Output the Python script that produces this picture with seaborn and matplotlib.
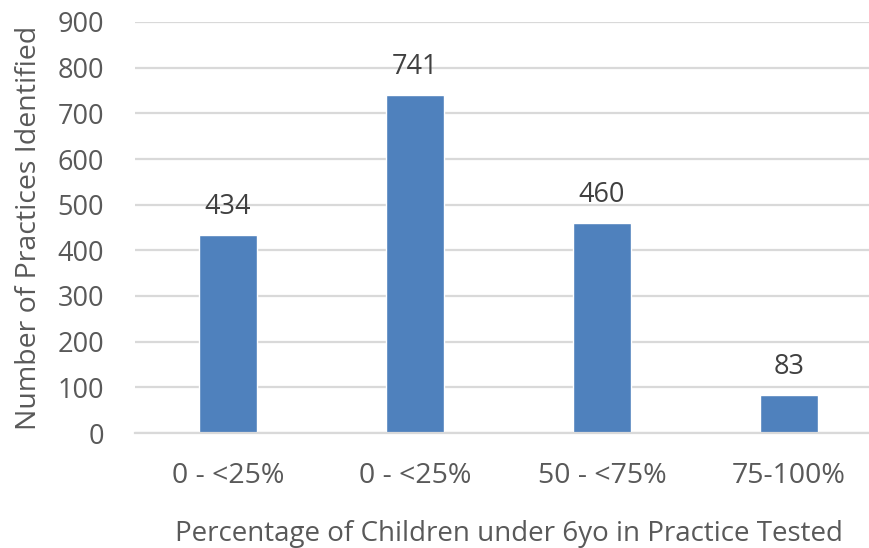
import matplotlib
matplotlib.use("Agg")
import matplotlib.pyplot as plt
import seaborn as sns
import pandas as pd

# Chart data
categories = ["0 - <25%", "0 - <25%", "50 - <75%", "75-100%"]
practices = [434, 741, 460, 83]
y_ticks = [0, 100, 200, 300, 400, 500, 600, 700, 800, 900]

sns.set_theme(style="white")
plt.rcParams["font.family"] = ["Open Sans", "DejaVu Sans"]

BAR = "#4F81BD"
GRID = "#D9D9D9"
TEXT = "#595959"

# categories repeat, so bars are keyed by slot and labelled afterwards
df = pd.DataFrame({"slot": [str(i) for i in range(len(categories))],
                   "value": practices})

fig = plt.figure(figsize=(8.69, 5.48), dpi=100)
ax = fig.add_axes([134.5 / 869, 1 - 433 / 548, 1 - 134.5 / 869, (433 - 22) / 548])

sns.barplot(data=df, x="slot", y="value", color=BAR, width=0.305,
            saturation=1, ax=ax, zorder=3)

ax.set_ylim(0, 900)
ax.set_yticks(y_ticks)
ax.set_xlim(-0.5, -0.5 + (869 - 134.5) / 187)
ax.set_xticks(range(len(categories)))
ax.set_xticklabels(categories)

ax.grid(axis="y", color=GRID, linewidth=1.6, zorder=0)
for side in ["top", "right", "left"]:
    ax.spines[side].set_visible(False)
ax.spines["bottom"].set_color(GRID)
ax.spines["bottom"].set_linewidth(1.6)
ax.spines["bottom"].set_zorder(4)

ax.tick_params(axis="both", length=0, labelsize=19.5, colors=TEXT)
ax.tick_params(axis="x", labelsize=20.5, pad=21)
ax.tick_params(axis="y", pad=22)

ax.bar_label(ax.containers[0], labels=[str(v) for v in practices],
             padding=10, fontsize=19.5, color="#404040")

ax.set_xlabel("Percentage of Children under 6yo in Practice Tested",
              fontsize=20, color=TEXT)
ax.xaxis.set_label_coords(0.51, -0.212)
ax.set_ylabel("Number of Practices Identified", fontsize=20.5, color=TEXT,
              labelpad=10)

fig.savefig("out.png", dpi=100)
